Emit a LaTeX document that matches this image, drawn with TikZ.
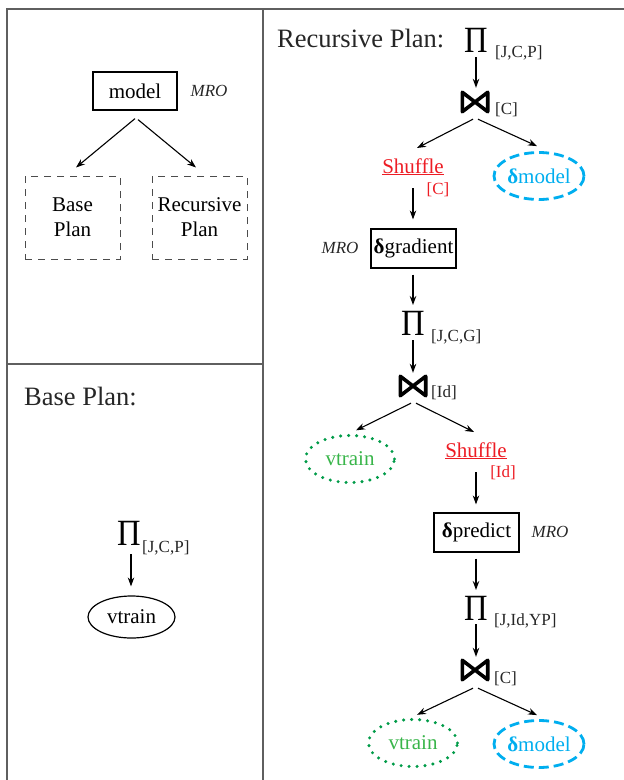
\documentclass[tikz,border=0pt]{standalone}
\usepackage{fontspec}
\usepackage{graphicx}
\setmainfont{Liberation Serif}
\usetikzlibrary{calc,arrows.meta,shapes.geometric}

\definecolor{shufred}{RGB}{237,28,36}
\definecolor{deltablue}{RGB}{0,174,239}
\definecolor{dotgreen}{RGB}{0,155,72}
\definecolor{textgreen}{RGB}{57,181,74}
\definecolor{framegray}{RGB}{95,95,95}

\tikzset{
  frame/.style={draw=framegray, line width=1.2pt},
  lbl/.style={font=\fontsize{21}{25}\selectfont, inner sep=0pt},
  small/.style={font=\fontsize{17}{20}\selectfont, inner sep=0pt, text=black!85},
  mro/.style={font=\fontsize{17}{20}\selectfont\itshape, inner sep=0pt, text=black!85},
  title/.style={font=\fontsize{26.5}{30}\selectfont, inner sep=0pt, text=black!85},
  opbox/.style={draw, line width=1.2pt, minimum width=85pt, minimum height=39pt,
    inner sep=0pt, font=\fontsize{21}{25}\selectfont},
  planbox/.style={draw=black!70, dash pattern=on 7pt off 6pt, line width=1pt,
    minimum width=95pt, minimum height=83pt, align=center, inner sep=0pt,
    font=\fontsize{21}{25}\selectfont},
  prodsym/.style={font=\fontsize{37}{40}\selectfont, inner sep=0pt, anchor=base},
  joinsym/.style={minimum width=25pt, minimum height=19pt, inner sep=0pt},
  bowtie/.style={line width=3.6pt, line join=round},
  arr/.style={-{Stealth[length=9pt,width=6.5pt]}, line width=1.1pt},
  shuf/.style={font=\fontsize{21}{25}\selectfont, inner sep=0pt, text=shufred, anchor=base},
  plainrel/.style={ellipse, draw, line width=1.2pt, minimum width=87pt, minimum height=42pt,
    inner sep=0pt, font=\fontsize{21}{25}\selectfont},
  greenrel/.style={ellipse, draw=dotgreen, line width=3.4pt, dash pattern=on 0pt off 8pt,
    line cap=round, minimum width=89pt, minimum height=47pt, inner sep=0pt,
    text=textgreen, font=\fontsize{21}{25}\selectfont},
  bluerel/.style={ellipse, draw=deltablue, line width=2.8pt, dash pattern=on 10pt off 5pt,
    minimum width=90pt, minimum height=47pt, inner sep=0pt,
    text=deltablue, font=\fontsize{21}{25}\selectfont},
}

\newcommand{\prodglyph}{\scalebox{0.88}[1]{Π}}

\begin{document}
\begin{tikzpicture}[x=1pt,y=-1pt]
\useasboundingbox (0,0) rectangle (624,780);

% table rules
\draw[frame] (7,780) -- (7,9) -- (624,9);
\draw[frame] (263,9) -- (263,780);
\draw[frame] (7,364) -- (263,364);

% ---- top left: model and its two plans
\node[opbox, minimum width=84pt, minimum height=38pt] (model) at (135,91) {model};
\node[mro] (mro0) at (209,91) {MRO};
\node[planbox] (basebox) at (72.5,217.5) {Base\\Plan};
\node[planbox] (recbox) at (199.5,217.5) {Recursive\\Plan};
\draw[arr] ($(model.south)+(0,8)$) -- ($(basebox.north)+(3.5,-8)$);
\draw[arr] ($(model.south)+(3,9)$) -- ($(recbox.north)+(-3.5,-8)$);

% ---- bottom left: base plan
\node[title, anchor=base west] (basetitle) at (24,405) {Base Plan:};
\node[prodsym] (pi0) at (129,545) {\prodglyph};
\node[small, anchor=base west] (pi0sub) at (142,552) {[J,C,P]};
\node[plainrel] (vt0) at (131.5,617) {vtrain};
\draw[arr] ($(pi0.base)+(2,9)$) -- ($(vt0.north)+(-0.5,-9)$);

% ---- right: recursive plan
\node[title, anchor=base west] (rectitle) at (277,47) {Recursive Plan:};
\node[prodsym] (pi1) at (476,52) {\prodglyph};
\node[small, anchor=base west] (pi1sub) at (495,57) {[J,C,P]};
\node[joinsym] (j1) at (475,102) {};
\draw[bowtie] (j1.north west) -- (j1.south east) -- (j1.north east) -- (j1.south west) -- cycle;
\node[small, anchor=base west] (j1sub) at (495,114) {[C]};
\draw[arr] ($(pi1.base)+(0,5)$) -- ($(j1.north)+(1,-4.5)$);

\node[shuf] (sh1) at (413,173) {\underline{Shuffle}};
\node[small, text=shufred, anchor=base] (sh1sub) at (438,194) {[C]};
\node[bluerel] (dm1) at (539,176) {\textbf{δ}model};
\draw[arr] ($(j1.south)+(-2,7.5)$) -- ($(sh1.base)+(4,-25)$);
\draw[arr] ($(j1.south)+(3,7.5)$) -- ($(dm1.north)+(-2,-5)$);

\node[opbox] (grad) at (413.5,248.5) {\textbf{δ}gradient};
\node[mro] (mro1) at (340,248) {MRO};
\draw[arr] ($(sh1.base)+(0,15)$) -- ($(grad.north)+(-0.5,-9)$);

\node[prodsym] (pi2) at (413,335) {\prodglyph};
\node[small, anchor=base west] (pi2sub) at (431,341) {[J,C,G]};
\draw[arr] ($(grad.south)+(-0.5,6)$) -- ($(pi2.base)+(0,-30)$);

\node[joinsym] (j2) at (413,386) {};
\draw[bowtie] (j2.north west) -- (j2.south east) -- (j2.north east) -- (j2.south west) -- cycle;
\node[small, anchor=base west] (j2sub) at (431,397) {[Id]};
\draw[arr] ($(pi2.base)+(0,5)$) -- ($(j2.north)+(0,-3.5)$);

\node[greenrel] (vt1) at (350,459) {vtrain};
\node[shuf] (sh2) at (476,457) {\underline{Shuffle}};
\node[small, text=shufred, anchor=base] (sh2sub) at (503,477) {[Id]};
\draw[arr] ($(j2.south)+(-2,7.5)$) -- ($(vt1.north)+(6,-3.5)$);
\draw[arr] ($(j2.south)+(3,7.5)$) -- ($(sh2.base)+(-2,-25)$);

\node[opbox] (pred) at (476.5,532.5) {\textbf{δ}predict};
\node[mro] (mro2) at (550,532) {MRO};
\draw[arr] ($(sh2.base)+(0,15)$) -- ($(pred.north)+(-0.5,-8)$);

\node[prodsym] (pi3) at (476,620) {\prodglyph};
\node[small, anchor=base west] (pi3sub) at (494,625) {[J,Id,YP]};
\draw[arr] ($(pred.south)+(-0.5,6)$) -- ($(pi3.base)+(0,-30)$);

\node[joinsym] (j3) at (475,670) {};
\draw[bowtie] (j3.north west) -- (j3.south east) -- (j3.north east) -- (j3.south west) -- cycle;
\node[small, anchor=base west] (j3sub) at (494,683) {[C]};
\draw[arr] ($(pi3.base)+(0,4)$) -- ($(j3.north)+(1,-3.5)$);

\node[greenrel] (vt2) at (413,743) {vtrain};
\node[bluerel] (dm2) at (539,744) {\textbf{δ}model};
\draw[arr] ($(j3.south)+(-2,8.5)$) -- ($(vt2.north)+(4,-3)$);
\draw[arr] ($(j3.south)+(3,8.5)$) -- ($(dm2.north)+(-2,-4)$);
\end{tikzpicture}
\end{document}
